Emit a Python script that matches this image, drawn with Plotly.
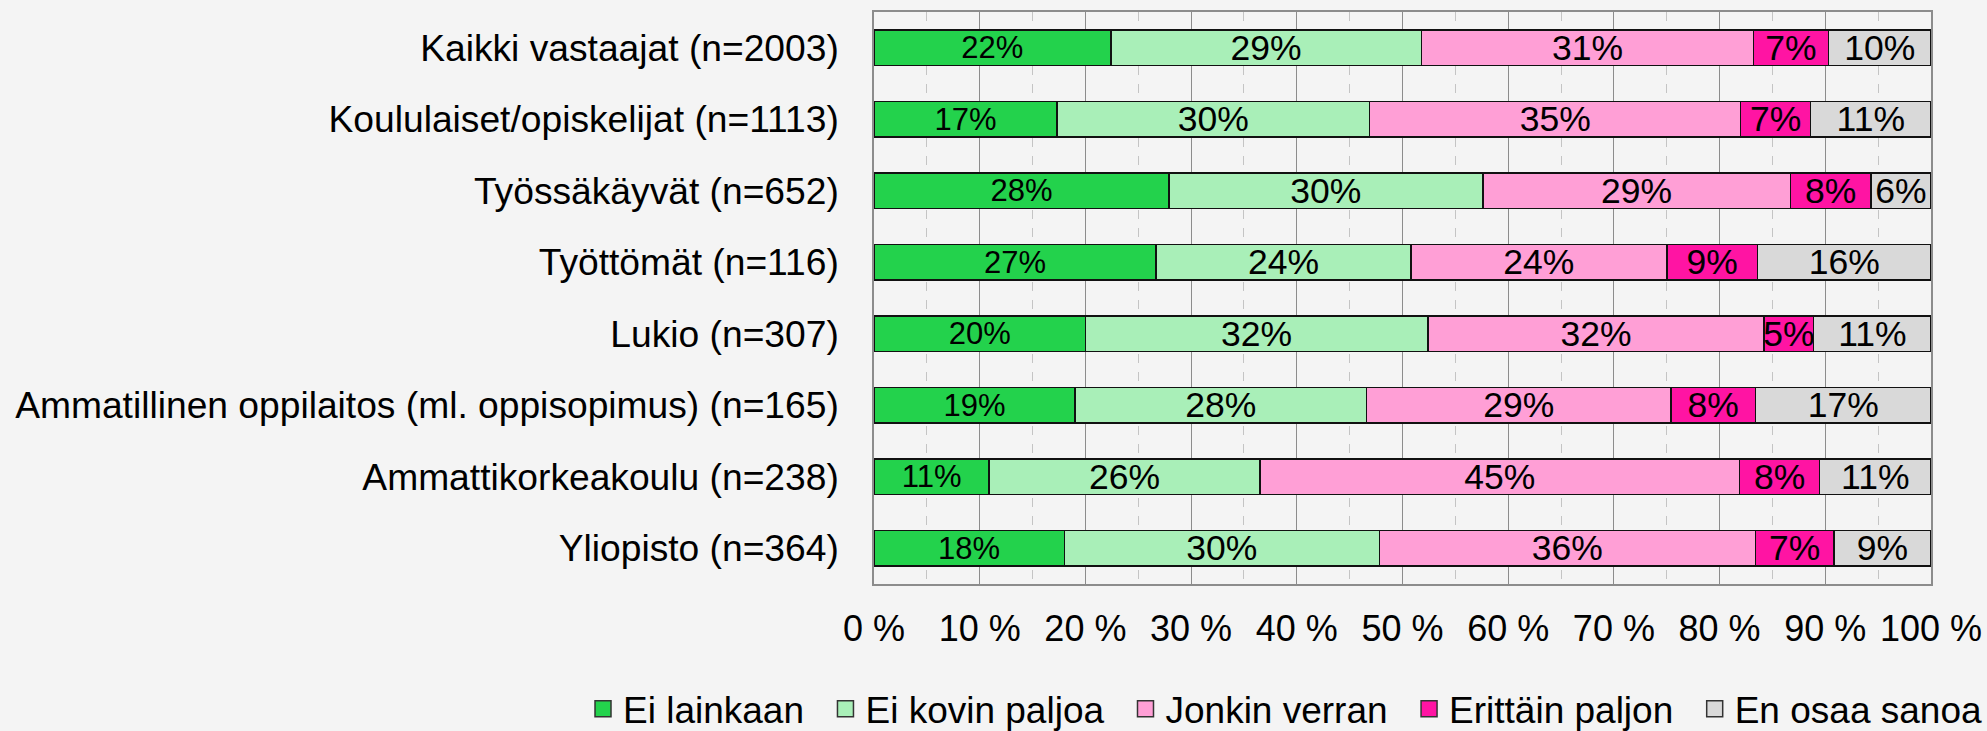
import plotly.graph_objects as go

categories = [
    "Kaikki vastaajat (n=2003)",
    "Koululaiset/opiskelijat (n=1113)",
    "Työssäkäyvät (n=652)",
    "Työttömät (n=116)",
    "Lukio (n=307)",
    "Ammatillinen oppilaitos (ml. oppisopimus) (n=165)",
    "Ammattikorkeakoulu (n=238)",
    "Yliopisto (n=364)",
]

ei_lainkaan = [22.4, 17.3, 27.9, 26.7, 20.0, 19.0, 10.9, 18.0]
ei_kovin_paljoa = [29.4, 29.6, 29.7, 24.1, 32.4, 27.6, 25.6, 29.8]
jonkin_verran = [31.4, 35.1, 29.1, 24.2, 31.8, 28.8, 45.4, 35.6]
erittain_paljon = [7.1, 6.6, 7.6, 8.6, 4.7, 8.0, 7.55, 7.4]
en_osaa_sanoa = [9.7, 11.4, 5.7, 16.4, 11.1, 16.6, 10.55, 9.2]

series_names = ["Ei lainkaan", "Ei kovin paljoa", "Jonkin verran", "Erittäin paljon", "En osaa sanoa"]
series_values = [ei_lainkaan, ei_kovin_paljoa, jonkin_verran, erittain_paljon, en_osaa_sanoa]
colors = ["#23D24C", "#A9EFB8", "#FF9FD6", "#FF14A3", "#D9D9D9"]
label_sizes = [31, 35.5, 35.5, 35.5, 35.5]

x_tickvals = [0, 10, 20, 30, 40, 50, 60, 70, 80, 90, 100]
x_ticktext = ["0 %", "10 %", "20 %", "30 %", "40 %", "50 %", "60 %", "70 %", "80 %", "90 %", "100 %"]

FONT = "Liberation Sans, Arial, sans-serif"
PAD = "\u00a0\u2006"

fig = go.Figure()
for i, (name, vals, col, fs) in enumerate(zip(series_names, series_values, colors, label_sizes)):
    fig.add_trace(go.Bar(
        name=name,
        y=categories,
        x=vals,
        orientation="h",
        marker=dict(color=col, line=dict(color="#111111", width=1.5)),
        texttemplate="%{x:.0f}%",
        textposition="inside",
        insidetextanchor="middle",
        textangle=0,
        constraintext="none",
        textfont=dict(family=FONT, size=fs, color="black"),
        hoverinfo="skip",
        showlegend=False,
    ))

# legend entries (larger square swatches, no data drawn)
for i, (name, col) in enumerate(zip(series_names, colors)):
    fig.add_trace(go.Scatter(
        name=name + (PAD if i < len(series_names) - 1 else ""),
        x=[None],
        y=[None],
        mode="markers",
        marker=dict(symbol="square", size=16, color=col, line=dict(color="#333333", width=1.5)),
        hoverinfo="skip",
        showlegend=True,
    ))

fig.update_layout(
    barmode="stack",
    bargap=0.5,
    width=1987,
    height=731,
    margin=dict(l=874, r=56, t=12, b=147, autoexpand=False),
    paper_bgcolor="#F4F4F4",
    plot_bgcolor="#F4F4F4",
    font=dict(family=FONT, size=35, color="black"),
    showlegend=True,
    legend=dict(
        orientation="h",
        x=-0.2753, xanchor="left",
        y=-0.219, yanchor="middle",
        font=dict(family=FONT, size=37, color="black"),
        bgcolor="rgba(0,0,0,0)",
        itemclick=False,
        itemsizing="trace",
        traceorder="normal",
    ),
    xaxis=dict(
        range=[0, 100],
        tickvals=x_tickvals,
        ticktext=x_ticktext,
        showgrid=True,
        gridcolor="#8C8C8C",
        gridwidth=1.3,
        minor=dict(dtick=5, showgrid=True, gridcolor="#C4C4C4", griddash="dash", gridwidth=1),
        showline=True,
        mirror=True,
        linecolor="#8C8C8C",
        linewidth=1.5,
        zeroline=False,
        ticks="",
        ticklabelstandoff=12,
        tickfont=dict(family=FONT, size=36, color="black"),
    ),
    yaxis=dict(
        categoryorder="array",
        categoryarray=categories,
        autorange="reversed",
        showgrid=False,
        showline=True,
        mirror=True,
        linecolor="#8C8C8C",
        linewidth=1.5,
        ticks="",
        ticklabelstandoff=26,
        tickfont=dict(family=FONT, size=37.2, color="black"),
    ),
)

fig.write_html(
    "out.html",
    config={"displayModeBar": False},
    post_script="document.body.style.margin='0px';",
)
